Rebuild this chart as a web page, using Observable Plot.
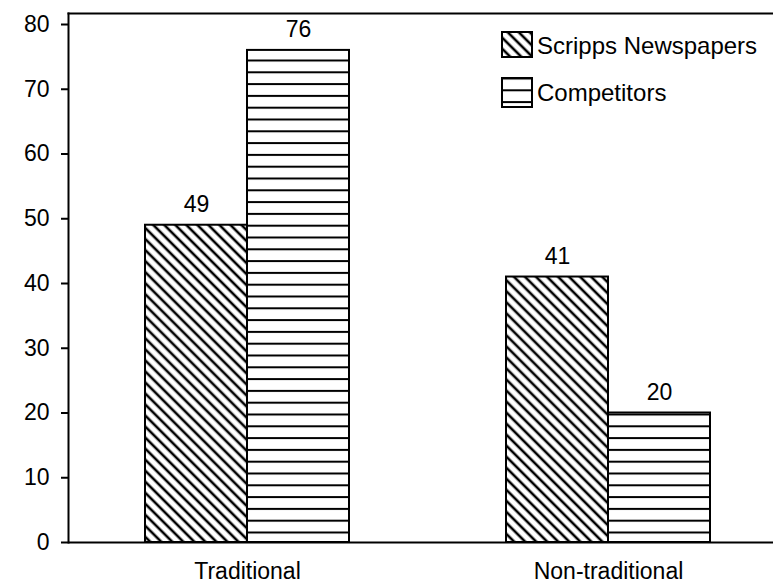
<!DOCTYPE html>
<html><head><meta charset="utf-8">
<script src="https://cdn.jsdelivr.net/npm/d3@7"></script>
<script src="https://cdn.jsdelivr.net/npm/@observablehq/plot@0.6"></script>
<style>
body{margin:0;background:#fff;}
#wrap{position:relative;width:773px;height:584px;font-family:"Liberation Sans",Arial,Helvetica,sans-serif;}
.leg{position:absolute;display:flex;align-items:center;font-size:24px;color:#000;white-space:nowrap;}
.leg svg{display:block;margin-right:4px;}
</style></head><body>
<svg width="0" height="0" style="position:absolute">
<defs>
<pattern id="diag" patternUnits="userSpaceOnUse" width="8" height="7.8" patternTransform="rotate(45)">
<rect x="0" y="0" width="8" height="7.8" fill="#fff"/>
<line x1="0" y1="3.9" x2="8" y2="3.9" stroke="#000" stroke-width="2.6"/>
</pattern>
<pattern id="horiz" patternUnits="userSpaceOnUse" width="10" height="11.8" y="0.5">
<rect x="0" y="0" width="10" height="11.8" fill="#fff"/>
<line x1="0" y1="1" x2="10" y2="1" stroke="#000" stroke-width="2"/>
</pattern>
</defs></svg>
<div id="wrap"></div>
<script>
const groups = ["Traditional", "Non-traditional"];
const series = ["Scripps Newspapers", "Competitors"];
const scripps = [49, 41];
const competitors = [76, 20];
const yTicks = [0, 10, 20, 30, 40, 50, 60, 70, 80];

const sData = groups.map((g, i) => ({group: g, value: scripps[i]}));
const cData = groups.map((g, i) => ({group: g, value: competitors[i]}));
const font = '"Liberation Sans", Arial, Helvetica, sans-serif';

const chart = Plot.plot({
  width: 773, height: 584,
  marginLeft: 68, marginRight: 0, marginTop: 13, marginBottom: 42,
  style: {fontFamily: font, fontSize: "23px", color: "#000", background: "#fff"},
  x: {domain: groups, range: [145, 710], paddingInner: 0.435, paddingOuter: 0, label: null},
  y: {domain: [0, 81.7], label: null},
  marks: [
    Plot.barY(sData, {x: "group", y: "value", fill: "url(#diag)", stroke: "#000", strokeWidth: 2, insetRight: 102}),
    Plot.barY(cData, {x: "group", y: "value", fill: "url(#horiz)", stroke: "#000", strokeWidth: 2, insetLeft: 102}),
    Plot.text(sData, {x: "group", y: "value", text: d => String(d.value), dx: -51, dy: -13, lineAnchor: "bottom", fontSize: 23, fill: "#000"}),
    Plot.text(cData, {x: "group", y: "value", text: d => String(d.value), dx: 51, dy: -13, lineAnchor: "bottom", fontSize: 23, fill: "#000"}),
    Plot.axisY({ticks: yTicks, tickSize: 7, tickPadding: 12, strokeWidth: 2, fontSize: 23, label: null}),
    Plot.axisX({tickSize: 0, tickPadding: 20, fontSize: 23, label: null}),
    Plot.ruleY([0], {stroke: "#000", strokeWidth: 2}),
    Plot.frame({anchor: "left", stroke: "#000", strokeWidth: 2}),
    Plot.frame({anchor: "top", stroke: "#000", strokeWidth: 2})
  ]
});
const wrap = document.getElementById("wrap");
wrap.appendChild(chart);

const legendItems = [
  {label: series[0], fill: "url(#diag)", top: 30, h: 27, shift: 2},
  {label: series[1], fill: "url(#horiz)", top: 77, h: 31, shift: 0}
];
legendItems.forEach(it => {
  const div = document.createElement("div");
  div.className = "leg";
  div.style.left = "501px";
  div.style.top = it.top + "px";
  div.innerHTML = `<svg width="32" height="${it.h}"><rect x="1" y="1" width="30" height="${it.h - 2}" fill="${it.fill}" stroke="#000" stroke-width="2"/></svg><span style="position:relative;top:${it.shift}px">${it.label}</span>`;
  wrap.appendChild(div);
});
</script>
</body></html>
